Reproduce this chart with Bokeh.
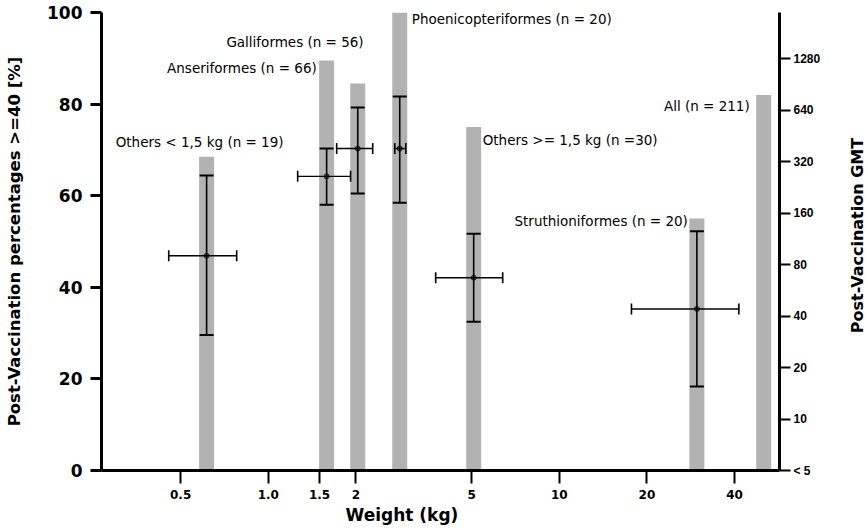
import math
from bokeh.plotting import figure
from bokeh.layouts import row
from bokeh.models import (Range1d, LogScale, LogAxis, FixedTicker, Whisker, TeeHead,
                          ColumnDataSource, Title)
from bokeh.core.properties import value
from bokeh.embed import file_html
from bokeh.resources import INLINE

# ---- data ----
groups = ["Others < 1,5 kg (n = 19)", "Galliformes (n = 56)", "Anseriformes (n = 66)",
          "Phoenicopteriformes (n = 20)", "Others >= 1,5 kg (n =30)",
          "Struthioniformes (n = 20)", "All (n = 211)"]
weight = [0.614, 1.587, 2.03, 2.83, 5.08, 29.7, 50.4]          # kg (bar position)
pct_ge40 = [68.5, 89.5, 84.5, 100.0, 75.0, 55.0, 82.0]        # % >= 40

# crosses (first six groups): GMT with CI and weight range
cross_weight = [0.614, 1.587, 2.03, 2.83, 5.08, 29.7]
gmt = [90, 262, 381, 381, 67, 44]
gmt_low = [31, 179, 208, 184, 37, 15.5]
gmt_high = [265, 381, 662, 768, 121, 125]
weight_low = [0.455, 1.262, 1.718, 2.72, 3.76, 17.7]
weight_high = [0.779, 1.918, 2.285, 2.97, 6.39, 41.4]

x_ticks = [0.5, 1.0, 1.5, 2, 5, 10, 20, 40]
x_tick_labels = ["0.5", "1.0", "1.5", "2", "5", "10", "20", "40"]
y_ticks = [0, 20, 40, 60, 80, 100]
gmt_ticks = [5, 10, 20, 40, 80, 160, 320, 640, 1280]
gmt_tick_labels = ["< 5", "10", "20", "40", "80", "160", "320", "640", "1280"]

# label placement (style): alignment and pixel offsets relative to the bar top
lab_align = ["center", "right", "right", "left", "left", "right", "right"]
lab_dx = [-7, 37, -41, 12, 9, -9, -14]
lab_dy = [-15, -19, -15, 6, 13, 2, 11]

p = figure(width=845, height=530, x_axis_type="log",
           x_range=Range1d(0.2673, 57.1), y_range=Range1d(0, 100),
           output_backend="svg", toolbar_location=None,
           min_border_left=101, min_border_right=66, min_border_top=12,
           min_border_bottom=60)
p.outline_line_color = None
p.xgrid.visible = False
p.ygrid.visible = False
p.background_fill_color = "white"
p.border_fill_color = "white"

p.extra_y_ranges = {"gmt": Range1d(5, 2378)}
p.extra_y_scales = {"gmt": LogScale()}

# bars
bars = ColumnDataSource(dict(x=weight, top=pct_ge40, mid=[v / 2 for v in pct_ge40]))
p.rect(x="x", y="mid", width=15, width_units="screen", height="top",
       source=bars, fill_color="#b2b2b2", line_color=None)

# crosses
cs = ColumnDataSource(dict(x=cross_weight, g=gmt, lo=gmt_low, hi=gmt_high,
                           wlo=weight_low, whi=weight_high))
vw = Whisker(source=cs, base="x", lower="lo", upper="hi", dimension="height",
             y_range_name="gmt", line_color="black", line_width=1.6, level="annotation",
             upper_head=TeeHead(size=14, line_width=2, line_color="black"),
             lower_head=TeeHead(size=14, line_width=2, line_color="black"))
hw = Whisker(source=cs, base="g", lower="wlo", upper="whi", dimension="width",
             y_range_name="gmt", line_color="black", line_width=1.4, level="annotation",
             upper_head=TeeHead(size=11, line_width=1.6, line_color="black"),
             lower_head=TeeHead(size=11, line_width=1.6, line_color="black"))
p.add_layout(vw)
p.add_layout(hw)
p.scatter(x="x", y="g", source=cs, y_range_name="gmt", size=5,
          fill_color="#666666", line_color="#222222", line_width=1)

# group labels
labs = ColumnDataSource(dict(x=weight, y=pct_ge40, text=groups, align=lab_align,
                             dx=lab_dx, dy=lab_dy))
p.text(x="x", y="y", text="text", source=labs, text_align="align",
       text_baseline="middle", x_offset="dx", y_offset="dy",
       text_font=value("DejaVu Sans"), text_font_size="13.5px", text_color="black")

# axes styling
xa = p.xaxis[0]
xa.ticker = FixedTicker(ticks=x_ticks)
xa.major_label_overrides = {t: l for t, l in zip(x_ticks, x_tick_labels)}
xa.minor_tick_line_color = None
xa.major_tick_in = 0
xa.major_tick_out = 13
xa.major_tick_line_width = 2
xa.axis_line_width = 3
xa.major_label_standoff = 6
xa.major_label_text_font = "DejaVu Sans"
xa.major_label_text_font_style = "bold"
xa.major_label_text_font_size = "12px"
xa.major_label_text_color = "black"

ya = p.yaxis[0]
ya.ticker = FixedTicker(ticks=y_ticks)
ya.minor_tick_line_color = None
ya.major_tick_in = 0
ya.major_tick_out = 11
ya.major_tick_line_width = 3
ya.axis_line_width = 3
ya.major_label_standoff = 8
ya.major_label_text_font = "DejaVu Sans"
ya.major_label_text_font_style = "bold"
ya.major_label_text_font_size = "17px"
ya.major_label_text_color = "black"
ya.axis_label = "Post-Vaccination percentages >=40 [%]"
ya.axis_label_text_font = "DejaVu Sans"
ya.axis_label_text_font_style = "bold"
ya.axis_label_text_font_size = "16.5px"
ya.axis_label_text_color = "black"
ya.axis_label_standoff = 20

ra = LogAxis(y_range_name="gmt", ticker=FixedTicker(ticks=gmt_ticks))
ra.major_label_overrides = {t: l for t, l in zip(gmt_ticks, gmt_tick_labels)}
ra.minor_tick_line_color = None
ra.major_tick_in = 0
ra.major_tick_out = 11
ra.major_tick_line_width = 2
ra.axis_line_width = 3
ra.major_label_standoff = 3
ra.major_label_text_font = "Liberation Sans"
ra.major_label_text_font_style = "bold"
ra.major_label_text_font_size = "12px"
ra.major_label_text_color = "black"
p.add_layout(ra, "right")

p.add_layout(Title(text="Weight (kg)", align="left", offset=244, standoff=2,
                   text_font="DejaVu Sans", text_font_style="bold",
                   text_font_size="17px", text_color="black"), "below")

# right-hand axis title in a narrow companion panel (reads bottom-to-top)
q = figure(width=23, height=530, x_range=Range1d(0, 1), y_range=Range1d(0, 100),
           output_backend="svg", toolbar_location=None,
           x_axis_location=None, y_axis_location=None,
           min_border_left=0, min_border_right=0, min_border_top=12,
           min_border_bottom=60)
q.outline_line_color = None
q.xgrid.visible = False
q.ygrid.visible = False
q.text(x=[0.5], y=[51.3], text=["Post-Vaccination GMT"], angle=math.pi / 2,
       text_align="center", text_baseline="middle",
       text_font=value("DejaVu Sans"), text_font_style="bold",
       text_font_size="16px", text_color="black")

layout = row(p, q, spacing=0)
open("out.html", "w").write(file_html(layout, INLINE))
